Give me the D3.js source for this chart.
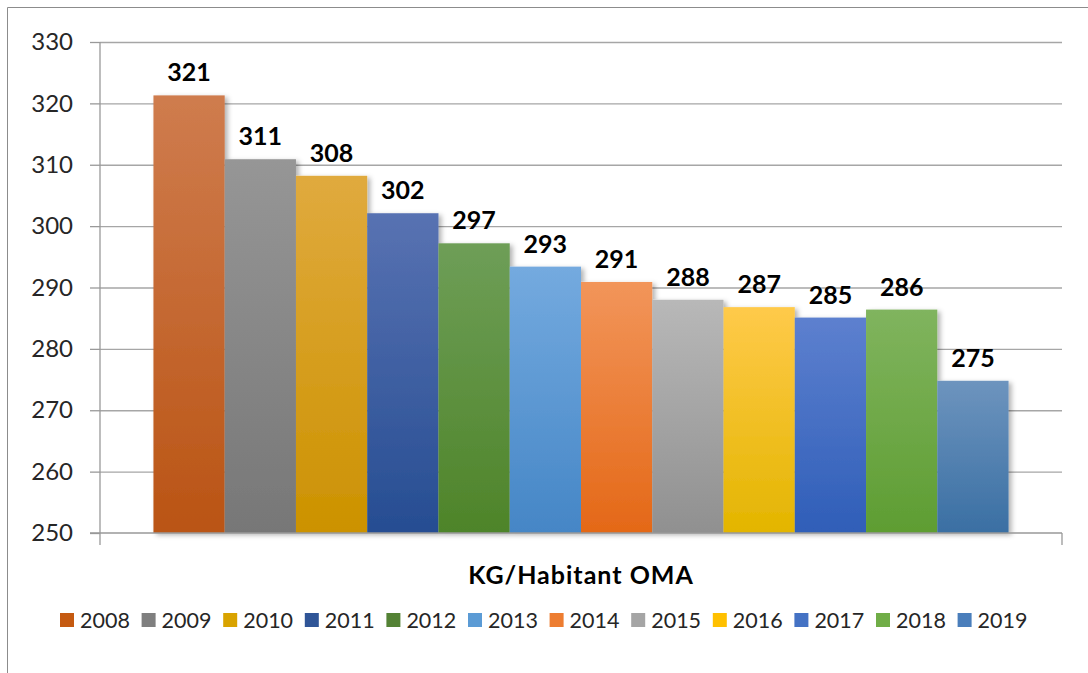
<!DOCTYPE html>
<html>
<head>
<meta charset="utf-8">
<script src="https://cdn.jsdelivr.net/npm/d3@7"></script>
<style>
  body { margin: 0; background: #fff; }
  svg { display: block; font-family: Lato, "Open Sans", sans-serif; }
</style>
</head>
<body>
<svg width="1088" height="673"></svg>
<script>
// data
const years = ["2008", "2009", "2010", "2011", "2012", "2013", "2014", "2015", "2016", "2017", "2018", "2019"];
const values = [321.3, 310.9, 308.2, 302.1, 297.2, 293.4, 290.9, 288.0, 286.8, 285.1, 286.4, 274.8];
const category = "KG/Habitant OMA";
const yTicks = [250, 260, 270, 280, 290, 300, 310, 320, 330];
// gradient colours per year: [top, bottom]
const topColors = ["#cf7c4e", "#969696", "#e0aa3e", "#5872b2", "#6e9e57", "#74aadf", "#f2955a", "#b8b8b8", "#ffca4a", "#5d80cf", "#80b45e", "#6d94be"];
const bottomColors = ["#ba5414", "#777777", "#cc9200", "#264d92", "#4e8429", "#4586c6", "#e46817", "#909090", "#e3b500", "#2f5eb8", "#5e9d32", "#3a6fa3"];
const legendColors = ["#c55a11", "#7f7f7f", "#d9a300", "#2f5597", "#548235", "#5b9bd5", "#ed7d31", "#a5a5a5", "#ffc000", "#4472c4", "#70ad47", "#4a7ebb"];

const svg = d3.select("svg");

// outer frame (top and left edges visible)
svg.append("path")
    .attr("d", "M7.5,673 L7.5,7.5 L1088,7.5")
    .attr("fill", "none")
    .attr("stroke", "#8c8c8c")
    .attr("stroke-width", 1);

const margin = {top: 42, left: 100, right: 1062, bottom: 533};

const y = d3.scaleLinear().domain([250, 330]).range([margin.bottom, margin.top]);
const x = d3.scaleBand().domain(years).range([margin.left, margin.right])
    .paddingInner(0).paddingOuter(0.75);

const defs = svg.append("defs");
years.forEach((yr, i) => {
    const g = defs.append("linearGradient").attr("id", "grad" + yr)
        .attr("x1", 0).attr("y1", 0).attr("x2", 0).attr("y2", 1);
    g.append("stop").attr("offset", "0%").attr("stop-color", topColors[i]);
    g.append("stop").attr("offset", "100%").attr("stop-color", bottomColors[i]);
});
const shadow = defs.append("filter").attr("id", "shadow")
    .attr("x", "-20%").attr("y", "-5%").attr("width", "140%").attr("height", "115%");
shadow.append("feDropShadow").attr("dx", 3).attr("dy", 2).attr("stdDeviation", 2.5)
    .attr("flood-color", "#000").attr("flood-opacity", 0.3);

// gridlines
svg.append("g")
    .attr("class", "grid")
    .attr("transform", "translate(" + margin.left + ",0)")
    .call(d3.axisRight(y).tickValues(yTicks.slice(1)).tickSize(margin.right - margin.left).tickFormat(""))
    .call(g => g.select(".domain").remove())
    .call(g => g.selectAll("line").attr("stroke", "#a6a6a6").attr("stroke-width", 1.3));

// bars
svg.append("g")
    .attr("filter", "url(#shadow)")
    .selectAll("rect")
    .data(d3.zip(years, values))
    .enter().append("rect")
    .attr("x", d => x(d[0]))
    .attr("width", x.bandwidth())
    .attr("y", d => y(d[1]))
    .attr("height", d => y(250) - y(d[1]))
    .attr("fill", d => "url(#grad" + d[0] + ")");

// value labels
svg.append("g")
    .selectAll("text")
    .data(d3.zip(years, values))
    .enter().append("text")
    .attr("x", d => x(d[0]) + x.bandwidth() / 2)
    .attr("y", d => y(d[1]) - 14)
    .attr("text-anchor", "middle")
    .attr("font-size", 25)
    .attr("font-weight", "bold")
    .attr("fill", "#000")
    .text(d => d3.format(".0f")(d[1]));

// y axis
svg.append("g")
    .attr("transform", "translate(" + margin.left + ",0)")
    .call(d3.axisLeft(y).tickValues(yTicks).tickSize(10).tickPadding(17).tickFormat(d3.format("d")))
    .call(g => g.select(".domain").remove())
    .call(g => g.selectAll("line").attr("stroke", "#999").attr("stroke-width", 1.3))
    .call(g => g.selectAll("text").attr("font-size", 24).attr("fill", "#262626").attr("font-family", "Lato, sans-serif"));

svg.append("line")
    .attr("x1", margin.left).attr("x2", margin.left)
    .attr("y1", y(330)).attr("y2", margin.bottom + 12)
    .attr("stroke", "#999").attr("stroke-width", 1.3);

// x axis baseline with end ticks
const x0 = d3.scaleBand().domain([category]).range([margin.left, margin.right]);
svg.append("line")
    .attr("x1", margin.left - 10).attr("x2", margin.right)
    .attr("y1", y(250)).attr("y2", y(250))
    .attr("stroke", "#999").attr("stroke-width", 1.3);
svg.append("line")
    .attr("x1", margin.right).attr("x2", margin.right)
    .attr("y1", y(250)).attr("y2", y(250) + 12)
    .attr("stroke", "#999").attr("stroke-width", 1.3);

// category label
svg.append("text")
    .attr("x", x0(category) + x0.bandwidth() / 2)
    .attr("y", 584)
    .attr("text-anchor", "middle")
    .attr("font-size", 25)
    .attr("letter-spacing", 1)
    .attr("font-weight", "bold")
    .attr("fill", "#000")
    .text(category);

// legend
const legend = svg.append("g").attr("transform", "translate(60,613)");
const item = legend.selectAll("g")
    .data(years)
    .enter().append("g")
    .attr("transform", (d, i) => "translate(" + (i * 81.6) + ",0)");
item.append("rect")
    .attr("width", 14).attr("height", 14)
    .attr("fill", (d, i) => legendColors[i]);
item.append("text")
    .attr("x", 20).attr("y", 15)
    .attr("font-size", 21.5)
    .attr("fill", "#262626")
    .text(d => d);
</script>
</body>
</html>
